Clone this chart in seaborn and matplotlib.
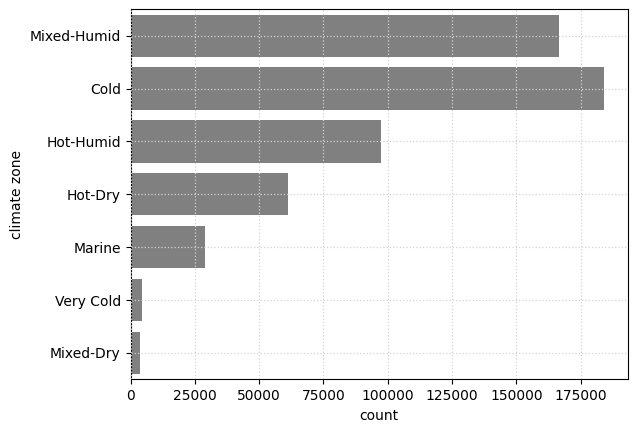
import matplotlib
matplotlib.use("Agg")
import matplotlib.pyplot as plt
import pandas as pd
import seaborn as sns

zones = ["Mixed-Humid", "Cold", "Hot-Humid", "Hot-Dry", "Marine", "Very Cold", "Mixed-Dry"]
counts = [166600, 184100, 97400, 61100, 28800, 4600, 3800]

df = pd.DataFrame({"climate zone": zones, "count": counts})

fig = plt.figure(figsize=(6.36, 4.32), dpi=100)
ax = fig.add_axes([0.2052, 0.122, 0.7818, 0.8565])

sns.barplot(data=df, x="count", y="climate zone", order=zones,
            color="gray", saturation=1, ax=ax)

# dotted grid drawn over the bars
ax.set_axisbelow(False)
ax.grid(True, linestyle=":", color="lightgray", linewidth=0.9)

ax.set_xlabel("count")
ax.set_ylabel("climate zone")

fig.savefig("out.png", dpi=100)
